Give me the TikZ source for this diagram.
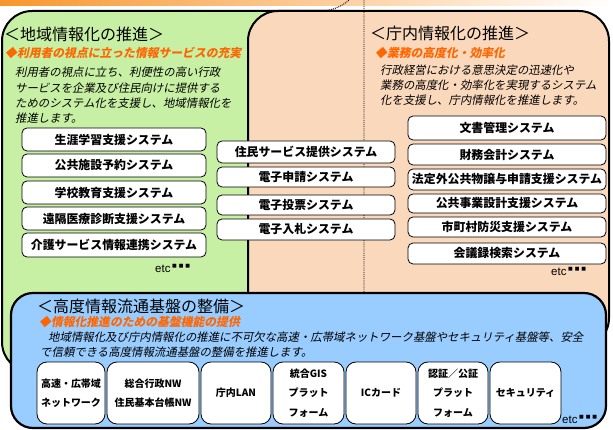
\documentclass[tikz,border=0pt]{standalone}
\usepackage{fontspec}
\newfontfamily\jp{Noto Sans CJK JP}
\newfontfamily\jpit[FakeSlant=0.2]{Noto Sans CJK JP}
\newfontfamily\lat{Liberation Sans}
\newfontfamily\dv{DejaVu Sans}
\definecolor{greenfill}{RGB}{200,240,165}
\definecolor{peachfill}{RGB}{250,216,188}
\definecolor{bluefill}{RGB}{153,204,255}
\definecolor{orangetxt}{RGB}{255,102,0}
\definecolor{barorange}{RGB}{248,150,45}
\tikzset{
  region/.style={line width=2pt, draw=black},
  sbox/.style={draw=black, line width=0.8pt, rounded corners=5pt, fill=white, inner sep=0pt,
    font=\jp\bfseries\fontsize{11.9}{12}\selectfont},
  bbox/.style={draw=black, line width=0.8pt, rounded corners=10pt, fill=white, inner sep=0pt,
    minimum height=62, align=center, font=\jp\bfseries\fontsize{10}{19.5}\selectfont},
  title/.style={anchor=west, inner sep=0pt, font=\jp\fontsize{16}{18}\selectfont},
  subt/.style={anchor=west, inner sep=0pt, text=orangetxt, font=\jpit\bfseries\fontsize{11.8}{13}\selectfont},
  body/.style={anchor=west, inner sep=0pt, font=\jpit\fontsize{11.4}{13}\selectfont},
  etcl/.style={anchor=west, inner sep=0pt, font=\lat\fontsize{11.5}{12}\selectfont},
}
\newcommand{\etcdots}{\kern1.5pt\raisebox{5pt}{\dv\fontsize{5}{6}\selectfont ■\kern2pt■\kern2pt■}}
\begin{document}
\begin{tikzpicture}[x=1pt,y=-1pt]
\useasboundingbox (0,0) rectangle (613,430);
% top gradient strip
\shade[left color=barorange, right color=white] (0,0) rectangle (613,6);
% green region
\filldraw[region, fill=greenfill, rounded corners=30] (2,11) rectangle (366,372);
% peach region
\filldraw[region, fill=peachfill, rounded corners=30] (248,11) rectangle (609,348);
% dotted arch (green region's right edge)
\draw[line width=0.9pt, densely dotted] (320,11) arc[start angle=90, end angle=0, radius=44] -- (364,293);

% left section texts
\node[title] (ltitle) at (4,34) {＜地域情報化の推進＞};
\node[subt] (lsub) at (5,53) {◆利用者の視点に立った情報サービスの充実};
\node[body] (lb1) at (15,72) {利用者の視点に立ち、利便性の高い行政};
\node[body] (lb2) at (15,88) {サービスを企業及び住民向けに提供する};
\node[body] (lb3) at (15,103) {ためのシステム化を支援し、地域情報化を};
\node[body] (lb4) at (15,118) {推進します。};

% right section texts
\node[title] (rtitle) at (370,33) {＜庁内情報化の推進＞};
\node[subt] (rsub) at (375,53) {◆業務の高度化・効率化};
\node[body] (rb1) at (380,70) {行政経営における意思決定の迅速化や};
\node[body] (rb2) at (380,85) {業務の高度化・効率化を実現するシステム};
\node[body] (rb3) at (380,100) {化を支援し、庁内情報化を推進します。};

% left boxes
\node[sbox, minimum width=184, minimum height=23] (l1) at (114,139.5) {生涯学習支援システム};
\node[sbox, minimum width=184, minimum height=23] (l2) at (114,165.5) {公共施設予約システム};
\node[sbox, minimum width=184, minimum height=23] (l3) at (114,192.5) {学校教育支援システム};
\node[sbox, minimum width=184, minimum height=23] (l4) at (114,218.5) {遠隔医療診断支援システム};
\node[sbox, minimum width=184, minimum height=24] (l5) at (114,245) {介護サービス情報連携システム};
\node[etcl] (letc) at (155,268) {etc\etcdots};

% middle boxes
\node[sbox, minimum width=178, minimum height=22] (m1) at (306,152) {住民サービス提供システム};
\node[sbox, minimum width=178, minimum height=20] (m2) at (306,177) {電子申請システム};
\node[sbox, minimum width=178, minimum height=20] (m3) at (306,205) {電子投票システム};
\node[sbox, minimum width=178, minimum height=21] (m4) at (306,229.5) {電子入札システム};

% right boxes
\node[sbox, minimum width=198, minimum height=24] (r1) at (507,128) {文書管理システム};
\node[sbox, minimum width=198, minimum height=21] (r2) at (507,154.5) {財務会計システム};
\node[sbox, minimum width=198, minimum height=21] (r3) at (507,179.5) {法定外公共物譲与申請支援システム};
\node[sbox, minimum width=198, minimum height=19] (r4) at (507,203.5) {公共事業設計支援システム};
\node[sbox, minimum width=198, minimum height=20] (r5) at (507,227) {市町村防災支援システム};
\node[sbox, minimum width=198, minimum height=21] (r6) at (507,253.5) {会議録検索システム};
\node[etcl] (retc) at (551,271) {etc\etcdots};

% bottom blue region
\filldraw[line width=2.2pt, draw=black, fill=bluefill, rounded corners=22] (11,293) rectangle (606,428);
\node[title] (btitle) at (37,306) {＜高度情報流通基盤の整備＞};
\node[subt] (bsub) at (39,322) {◆情報化推進のための基盤機能の提供};
\node[body] (bb1) at (48,337.5) {地域情報化及び庁内情報化の推進に不可欠な高速・広帯域ネットワーク基盤やセキュリティ基盤等、安全};
\node[body] (bb2) at (40,352.5) {で信頼できる高度情報流通基盤の整備を推進します。};

\node[bbox, minimum width=68] (b1) at (71,393) {高速・広帯域\\ネットワーク};
\node[bbox, minimum width=92] (b2) at (153,393) {総合行政NW\\住民基本台帳NW};
\node[bbox, minimum width=70] (b3) at (236,393) {庁内LAN};
\node[bbox, minimum width=71] (b4) at (308.5,393) {統合GIS\\プラット\\フォーム};
\node[bbox, minimum width=70] (b5) at (381,393) {ICカード};
\node[bbox, minimum width=70] (b6) at (453,393) {認証／公証\\プラット\\フォーム};
\node[bbox, minimum width=71] (b7) at (525.5,393) {セキュリティ};
\node[etcl] (betc) at (562,419) {etc\etcdots};
\end{tikzpicture}
\end{document}
